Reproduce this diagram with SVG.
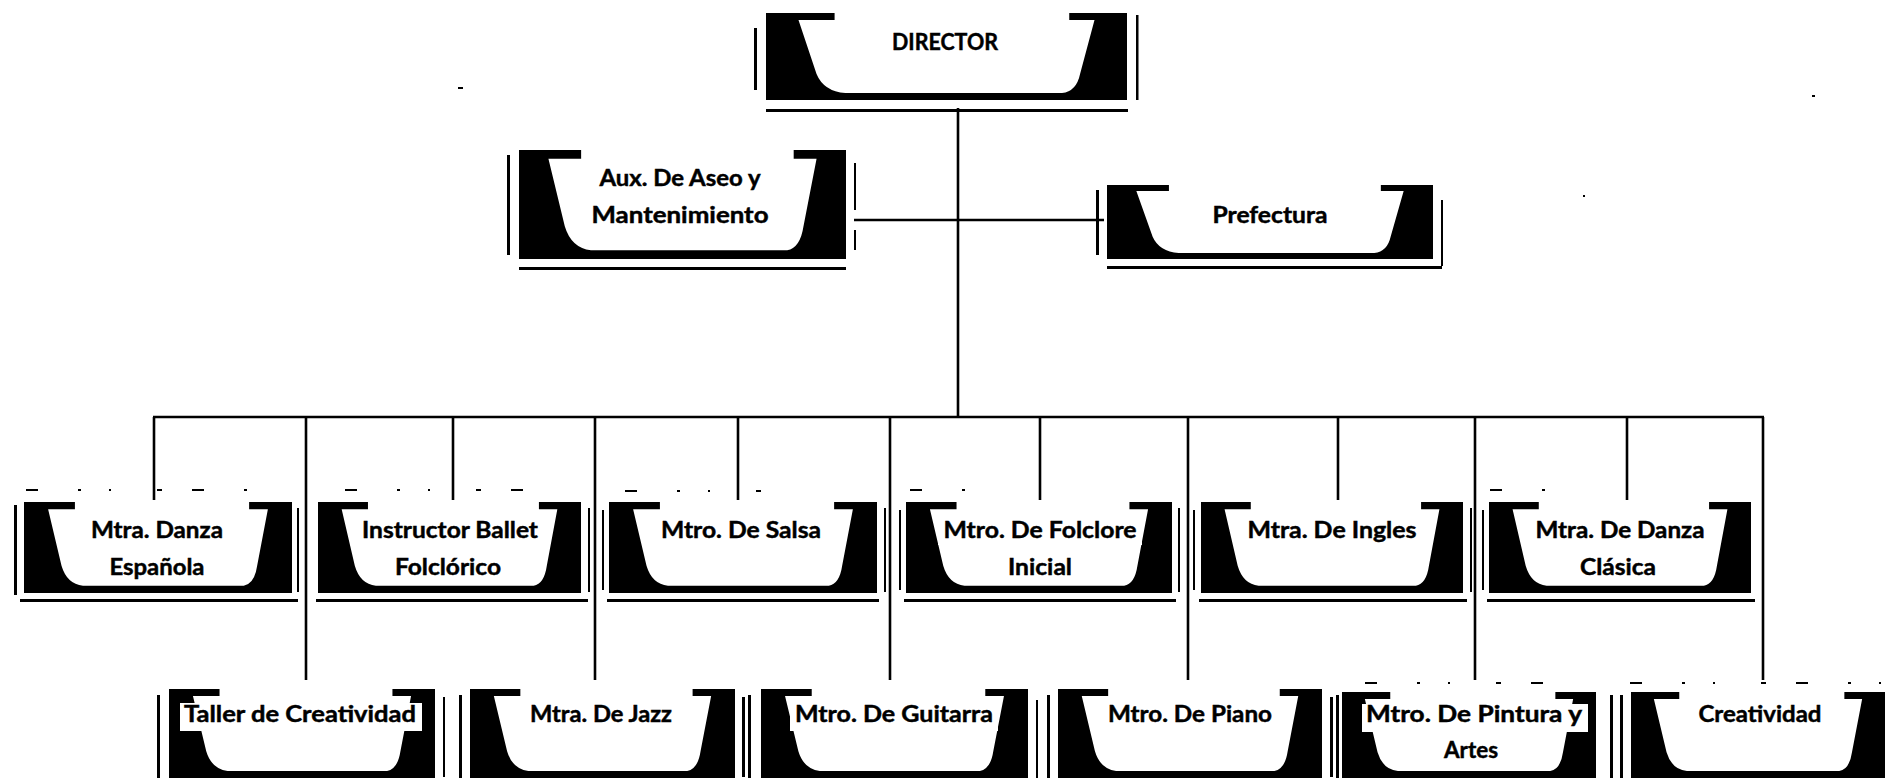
<svg xmlns="http://www.w3.org/2000/svg" xmlns:xlink="http://www.w3.org/1999/xlink" width="1885" height="780" viewBox="0 0 1885 780">
<style>
.t{font-family:Lato,"Open Sans","Liberation Sans",sans-serif;font-weight:700;font-size:22px;text-anchor:middle;fill:#000;stroke:#000;stroke-width:0.45}
.c{stroke:#000;stroke-width:2.6;fill:none}
.b{fill:#000}
.n{stroke:#000;stroke-width:2;fill:none;stroke-dasharray:12 40 3 28 2 46 5 30}
</style>
<defs>
<symbol id="box" viewBox="0 0 100 100" preserveAspectRatio="none">
<rect width="100" height="100" fill="#000"/>
<path fill="#fff" d="M19,0 H84 V8 H91 L87,70 Q86,90 82,92 H22 Q16,90 14,70 L9,8 H19 Z"/>
</symbol>
</defs>
<rect width="1885" height="780" fill="#fff"/>

<g id="connectors">
<line class="c" x1="958" y1="108" x2="958" y2="418"/>
<line class="c" x1="854" y1="220" x2="1104" y2="220"/>
<line class="c" x1="153" y1="417" x2="1764" y2="417"/>
<line class="c" x1="154" y1="417" x2="154" y2="500"/>
<line class="c" x1="453" y1="417" x2="453" y2="500"/>
<line class="c" x1="738" y1="417" x2="738" y2="500"/>
<line class="c" x1="1040" y1="417" x2="1040" y2="500"/>
<line class="c" x1="1338" y1="417" x2="1338" y2="500"/>
<line class="c" x1="1627" y1="417" x2="1627" y2="500"/>
<line class="c" x1="306" y1="417" x2="306" y2="680"/>
<line class="c" x1="595" y1="417" x2="595" y2="680"/>
<line class="c" x1="890" y1="417" x2="890" y2="680"/>
<line class="c" x1="1188" y1="417" x2="1188" y2="680"/>
<line class="c" x1="1475" y1="417" x2="1475" y2="680"/>
<line class="c" x1="1763" y1="417" x2="1763" y2="680"/>
</g>

<g id="specks">
<rect class="b" x="458" y="87" width="5" height="2"/>
<rect class="b" x="1812" y="95" width="3" height="2"/>
<rect class="b" x="1583" y="195" width="2" height="2"/>
<line class="n" x1="26" y1="490" x2="268" y2="490"/>
<line class="n" x1="345" y1="490" x2="525" y2="490"/>
<line class="n" x1="625" y1="491" x2="775" y2="491"/>
<line class="n" x1="910" y1="490" x2="975" y2="490"/>
<line class="n" x1="1490" y1="490" x2="1560" y2="490"/>
<line class="n" x1="1365" y1="683" x2="1580" y2="683"/>
<line class="n" x1="1630" y1="683" x2="1885" y2="683"/>
</g>

<g id="director">
<use href="#box" x="766" y="13" width="361" height="87"/>
<rect class="b" x="754" y="28" width="3" height="62"/>
<rect class="b" x="1136" y="15" width="2.5" height="85"/>
<rect class="b" x="766" y="109" width="362" height="3"/>
<text class="t" x="945" y="50" textLength="106" lengthAdjust="spacingAndGlyphs">DIRECTOR</text>
</g>

<g id="aux">
<use href="#box" x="519" y="150" width="327" height="109"/>
<rect class="b" x="507" y="155" width="3" height="100"/>
<rect class="b" x="854" y="163" width="2" height="47"/>
<rect class="b" x="854" y="230" width="2" height="20"/>
<rect class="b" x="519" y="267" width="327" height="3"/>
<text class="t" x="680" y="186" textLength="161" lengthAdjust="spacingAndGlyphs">Aux. De Aseo y</text>
<text class="t" x="680" y="223" textLength="177" lengthAdjust="spacingAndGlyphs">Mantenimiento</text>
</g>

<g id="prefectura">
<use href="#box" x="1107" y="185" width="326" height="74"/>
<rect class="b" x="1096" y="190" width="3" height="65"/>
<rect class="b" x="1441" y="200" width="2" height="66"/>
<rect class="b" x="1107" y="266" width="335" height="3"/>
<text class="t" x="1270" y="223" textLength="115" lengthAdjust="spacingAndGlyphs">Prefectura</text>
</g>

<g id="mtra-danza-espanola">
<use href="#box" x="24" y="502" width="268" height="91"/>
<rect class="b" x="14" y="505" width="3" height="90"/>
<rect class="b" x="297" y="508" width="2" height="84"/>
<rect class="b" x="20" y="599" width="278" height="3"/>
<text class="t" x="157" y="538" textLength="132" lengthAdjust="spacingAndGlyphs">Mtra. Danza</text>
<text class="t" x="157" y="575" textLength="95" lengthAdjust="spacingAndGlyphs">Española</text>
</g>

<g id="instructor-ballet">
<use href="#box" x="318" y="502" width="263" height="91"/>
<rect class="b" x="588" y="508" width="2" height="84"/>
<rect class="b" x="316" y="599" width="272" height="3"/>
<rect fill="#fff" x="356" y="518" width="188" height="27"/>
<text class="t" x="450" y="538" textLength="176" lengthAdjust="spacingAndGlyphs">Instructor Ballet</text>
<text class="t" x="448" y="575" textLength="106" lengthAdjust="spacingAndGlyphs">Folclórico</text>
</g>

<g id="mtro-salsa">
<use href="#box" x="609" y="502" width="268" height="91"/>
<rect class="b" x="602" y="510" width="2" height="80"/>
<rect class="b" x="884" y="508" width="2" height="84"/>
<rect class="b" x="607" y="599" width="272" height="3"/>
<text class="t" x="741" y="538" textLength="160" lengthAdjust="spacingAndGlyphs">Mtro. De Salsa</text>
</g>

<g id="mtro-folclore">
<use href="#box" x="906" y="502" width="266" height="91"/>
<rect class="b" x="899" y="510" width="2" height="80"/>
<rect class="b" x="1178" y="508" width="2" height="84"/>
<rect class="b" x="904" y="599" width="272" height="3"/>
<rect fill="#fff" x="938" y="518" width="204" height="27"/>
<text class="t" x="1040" y="538" textLength="193" lengthAdjust="spacingAndGlyphs">Mtro. De Folclore</text>
<text class="t" x="1040" y="575" textLength="64" lengthAdjust="spacingAndGlyphs">Inicial</text>
</g>

<g id="mtra-ingles">
<use href="#box" x="1201" y="502" width="262" height="91"/>
<rect class="b" x="1193" y="510" width="2" height="80"/>
<rect class="b" x="1470" y="508" width="2" height="84"/>
<rect class="b" x="1199" y="599" width="268" height="3"/>
<text class="t" x="1332" y="538" textLength="169" lengthAdjust="spacingAndGlyphs">Mtra. De Ingles</text>
</g>

<g id="mtra-danza-clasica">
<use href="#box" x="1489" y="502" width="262" height="91"/>
<rect class="b" x="1482" y="510" width="2" height="80"/>
<rect class="b" x="1487" y="599" width="268" height="3"/>
<text class="t" x="1620" y="538" textLength="169" lengthAdjust="spacingAndGlyphs">Mtra. De Danza</text>
<text class="t" x="1618" y="575" textLength="76" lengthAdjust="spacingAndGlyphs">Clásica</text>
</g>

<g id="taller-creatividad">
<use href="#box" x="169" y="689" width="266" height="89"/>
<rect class="b" x="157" y="695" width="3" height="83"/>
<rect class="b" x="443" y="697" width="2" height="80"/>
<rect fill="#fff" x="180" y="703" width="242" height="28"/>
<text class="t" x="300" y="722" textLength="232" lengthAdjust="spacingAndGlyphs">Taller de Creatividad</text>
</g>

<g id="mtra-jazz">
<use href="#box" x="470" y="689" width="265" height="89"/>
<rect class="b" x="459" y="695" width="3" height="83"/>
<rect class="b" x="742" y="697" width="3" height="80"/>
<text class="t" x="601" y="722" textLength="142" lengthAdjust="spacingAndGlyphs">Mtra. De Jazz</text>
</g>

<g id="mtro-guitarra">
<use href="#box" x="761" y="689" width="267" height="89"/>
<rect class="b" x="748" y="695" width="3" height="83"/>
<rect class="b" x="1036" y="700" width="2" height="78"/>
<rect fill="#fff" x="790" y="703" width="208" height="28"/>
<text class="t" x="894" y="722" textLength="198" lengthAdjust="spacingAndGlyphs">Mtro. De Guitarra</text>
</g>

<g id="mtro-piano">
<use href="#box" x="1058" y="689" width="264" height="89"/>
<rect class="b" x="1047" y="695" width="3" height="83"/>
<rect class="b" x="1330" y="697" width="3" height="80"/>
<text class="t" x="1190" y="722" textLength="164" lengthAdjust="spacingAndGlyphs">Mtro. De Piano</text>
</g>

<g id="mtro-pintura">
<use href="#box" x="1342" y="692" width="254" height="86"/>
<rect class="b" x="1336" y="695" width="3" height="83"/>
<rect class="b" x="1610" y="695" width="3" height="83"/>
<rect fill="#fff" x="1362" y="704" width="226" height="28"/>
<text class="t" x="1474" y="722" textLength="216" lengthAdjust="spacingAndGlyphs">Mtro. De Pintura y</text>
<text class="t" x="1471" y="758" textLength="54" lengthAdjust="spacingAndGlyphs">Artes</text>
</g>

<g id="creatividad">
<use href="#box" x="1631" y="692" width="254" height="86"/>
<rect class="b" x="1620" y="695" width="3" height="83"/>
<text class="t" x="1760" y="722" textLength="123" lengthAdjust="spacingAndGlyphs">Creatividad</text>
</g>
</svg>
